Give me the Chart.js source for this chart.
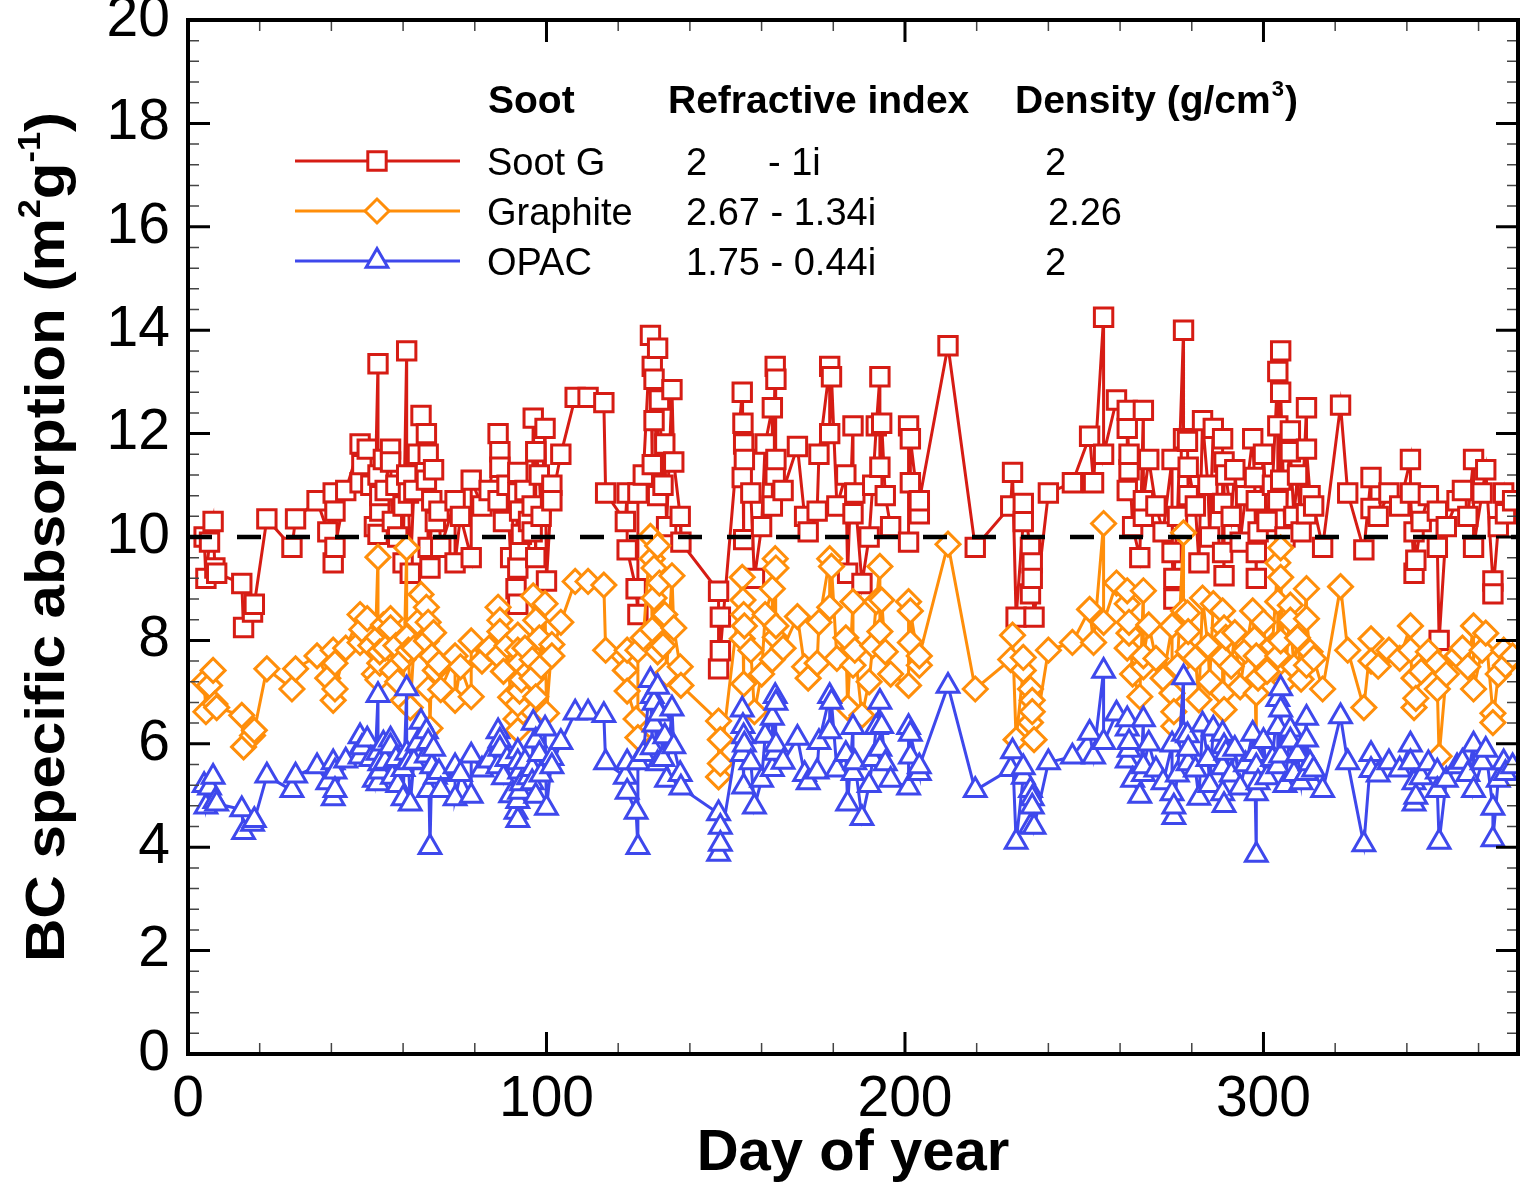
<!DOCTYPE html>
<html>
<head>
<meta charset="utf-8">
<title>BC specific absorption</title>
<script src="https://cdn.jsdelivr.net/npm/chart.js@4.4.1/dist/chart.umd.min.js"></script>
<style>
    html, body { margin: 0; padding: 0; background: #fff; overflow: hidden; }
    #wrap { width: 1525px; height: 1184px; position: relative; overflow: hidden; }
    #absChart { display: block; }
</style>
</head>
<body>
<div id="wrap"><canvas id="absChart"></canvas></div>
<script>
// Day of year for each sample (later entries fill in the dense stretches)
const days = [
    4.5, 5, 6, 7, 7.5, 8, 15, 15.5, 18, 18.5, 22, 29, 30, 36, 39, 40.5, 40.5, 41, 41, 44,
    48, 48, 48.5, 50, 53, 53, 53, 53.5, 53.5, 56.5, 56.5, 57, 60, 60, 61, 61, 61.5, 62, 65, 66.5,
    66.5, 67, 67, 67.5, 68, 69, 74.5, 74.5, 76, 79, 79, 84, 86.5, 86.5, 87, 87, 91.5, 92, 92, 92,
    92, 92.5, 92.5, 93, 96, 96, 96.3, 97, 97, 99.6, 100, 101.5, 101.5, 104, 108, 111.6, 116, 116.5, 122, 122.5,
    122.5, 125, 125.5, 125.5, 129, 129.5, 129.5, 130, 130, 131, 131, 131.5, 133, 135, 135.5, 137.3, 137.5, 148, 148, 148.5,
    148.5, 154.6, 154.6, 154.8, 155, 155, 155.2, 157, 158, 163, 163, 163.8, 163.8, 164, 164, 170, 172, 173, 175.5, 176,
    179, 179, 179.5, 184, 185.5, 185.5, 186, 188, 190, 192, 193, 193, 193.5, 194.5, 201, 201, 201.5, 201.5, 204, 204,
    212, 219.6, 229.5, 230, 231, 233, 233, 235, 235, 235.5, 235.5, 236, 240, 246.7, 251.5, 252.6, 255.4, 255.4, 259, 262,
    262, 262, 262.5, 262.5, 265.5, 266.5, 266.5, 266.5, 272, 274.5, 274.5, 275, 275, 277.7, 277.7, 278.8, 279, 279, 283, 286,
    288.6, 288.6, 288.6, 289, 289, 289.5, 297, 297.5, 298, 298, 298, 298.5, 304, 304, 304, 304.8, 304.8, 304.8, 307.5, 307.5,
    308.5, 312, 312, 312, 313, 316.5, 321.5, 323.5, 328, 330, 330, 335, 341, 341, 342, 342, 342.5, 346, 348.5, 348.5,
    349, 354, 357, 358.6, 358.6, 361, 362, 364, 364, 367, 367.5, 369.5,
    51, 52, 54.5, 55, 58, 58.5, 63, 64, 68.5, 70, 70.5, 82, 88, 89, 90, 94, 95, 98, 98.5, 127,
    132.5, 133.5, 160, 161, 166, 181, 183.5, 191, 196, 263.5, 268, 270, 276, 281, 282, 284.5, 285, 291, 292, 293.5,
    295, 300, 301, 302.5, 306, 309.5, 310.5, 314, 332, 338, 344, 351, 355.5, 365.5
];

const sootG = [
    10.0, 9.2, 9.9, 10.3, 9.4, 9.3, 9.1, 8.25, 8.55, 8.7, 10.35, 9.8, 10.35, 10.7, 10.1, 10.85, 9.5, 10.5, 9.8, 10.9,
    11.8, 11.05, 11.4, 11.7, 13.35, 10.05, 11.2, 10.5, 10.8, 11.7, 11.45, 10.3, 10.6, 9.5, 13.6, 11.2, 10.85, 9.3, 12.35, 11.1,
    12.0, 9.8, 11.6, 9.4, 10.7, 10.3, 10.7, 9.5, 10.4, 9.6, 11.1, 10.9, 12.0, 10.7, 11.65, 11.35, 9.0, 11.25, 8.7, 10.85,
    9.4, 10.5, 9.75, 10.05, 10.6, 10.1, 12.3, 9.6, 11.65, 12.1, 9.15, 11.0, 10.7, 11.6, 12.7, 12.7, 12.6, 10.85, 10.3, 10.85,
    9.75, 9.0, 8.5, 10.85, 13.9, 11.4, 13.3, 12.25, 13.05, 10.8, 13.65, 12.65, 11.8, 12.85, 11.45, 10.4, 9.9, 8.95, 7.45, 8.45,
    7.8, 12.8, 11.15, 12.2, 9.95, 11.8, 11.5, 10.85, 9.2, 12.5, 10.6, 13.3, 11.2, 13.05, 11.5, 11.75, 10.4, 10.1, 10.5, 11.6,
    13.3, 12.0, 13.1, 9.3, 12.15, 10.45, 10.85, 9.1, 10.0, 12.15, 13.1, 11.35, 12.2, 10.8, 9.9, 12.15, 11.05, 11.9, 10.45, 10.7,
    13.7, 9.8, 10.6, 11.25, 8.45, 10.3, 10.65, 9.8, 8.9, 9.5, 9.2, 8.45, 10.85, 11.05, 11.95, 11.05, 14.25, 11.6, 12.65, 12.1,
    10.9, 12.45, 11.3, 11.6, 9.6, 12.45, 10.4, 10.7, 10.1, 11.5, 9.7, 8.8, 9.2, 14.0, 11.9, 11.85, 10.8, 11.35, 12.25, 12.1,
    11.9, 9.7, 10.65, 9.25, 11.45, 11.2, 11.9, 11.15, 9.2, 10.7, 9.7, 10.1, 13.2, 10.7, 12.15, 13.6, 11.1, 12.8, 12.05, 11.65,
    10.4, 12.5, 10.45, 11.7, 10.8, 9.8, 12.55, 10.85, 9.75, 11.15, 10.55, 10.85, 11.5, 10.85, 9.3, 10.1, 9.55, 10.8, 10.5, 9.8,
    8.0, 10.7, 10.4, 11.5, 9.8, 10.85, 11.3, 9.15, 8.9, 10.85, 10.45, 10.7,
    11.0, 10.2, 11.5, 10.9, 11.0, 10.0, 10.9, 11.6, 11.3, 10.5, 9.8, 10.6, 10.3, 11.0, 9.6, 10.9, 10.3, 11.2, 10.4, 11.2,
    11.0, 10.2, 10.2, 11.8, 10.9, 10.6, 11.2, 11.0, 10.2, 10.2, 11.5, 10.6, 10.4, 10.6, 9.5, 11.0, 10.0, 10.4, 11.3, 9.9,
    10.8, 11.6, 10.3, 11.0, 10.0, 11.2, 10.1, 10.6, 10.4, 10.6, 10.3, 10.2, 10.9, 10.2
];

const graphite = [
    7.20, 6.62, 7.13, 7.42, 6.77, 6.70, 6.55, 5.94, 6.16, 6.26, 7.45, 7.06, 7.45, 7.70, 7.27, 7.81, 6.84, 7.56, 7.06, 7.85,
    8.50, 7.96, 8.21, 8.42, 9.61, 7.24, 8.06, 7.56, 7.78, 8.42, 8.24, 7.42, 7.63, 6.84, 9.79, 8.06, 7.81, 6.70, 8.89, 7.99,
    8.64, 7.06, 8.35, 6.30, 7.70, 7.42, 7.70, 6.84, 7.49, 6.91, 7.99, 7.85, 8.64, 7.70, 8.39, 8.17, 6.48, 8.10, 6.26, 7.81,
    6.77, 7.56, 7.02, 7.24, 7.63, 7.27, 8.86, 6.91, 8.39, 8.71, 6.59, 7.92, 7.70, 8.35, 9.14, 9.14, 9.07, 7.81, 7.42, 7.81,
    7.02, 6.48, 6.12, 7.81, 10.01, 8.21, 9.58, 8.82, 9.40, 7.78, 9.83, 9.11, 8.50, 9.25, 8.24, 7.49, 7.13, 6.44, 5.36, 6.08,
    5.62, 9.22, 8.03, 8.78, 7.16, 8.50, 8.28, 7.81, 6.62, 9.00, 7.63, 9.58, 8.06, 9.40, 8.28, 8.46, 7.49, 7.27, 7.56, 8.35,
    9.58, 8.64, 9.43, 6.70, 8.75, 7.52, 7.81, 6.55, 7.20, 8.75, 9.43, 8.17, 8.78, 7.78, 7.13, 8.75, 7.96, 8.57, 7.52, 7.70,
    9.86, 7.06, 7.63, 8.10, 6.08, 7.42, 7.67, 7.06, 6.41, 6.84, 6.62, 6.08, 7.81, 7.96, 8.60, 7.96, 10.26, 8.35, 9.11, 8.71,
    7.85, 8.96, 8.14, 8.35, 6.91, 8.96, 7.49, 7.70, 7.27, 8.28, 6.98, 6.34, 6.62, 10.08, 8.57, 8.53, 7.78, 8.17, 8.82, 8.71,
    8.57, 6.98, 7.67, 6.66, 8.24, 8.06, 8.57, 8.03, 5.70, 7.70, 6.98, 7.27, 9.50, 7.70, 8.75, 9.79, 7.99, 9.22, 8.68, 8.39,
    7.49, 9.00, 7.52, 8.42, 7.78, 7.06, 9.04, 7.81, 6.70, 8.03, 7.60, 7.81, 8.28, 7.81, 6.70, 7.27, 6.88, 7.78, 7.56, 7.06,
    5.76, 7.70, 7.49, 8.28, 7.06, 7.81, 8.14, 6.59, 6.41, 7.81, 7.52, 7.70,
    7.90, 7.35, 8.30, 7.85, 7.90, 7.20, 7.85, 8.35, 8.15, 7.55, 7.05, 7.60, 7.40, 7.90, 6.90, 7.85, 7.40, 8.05, 7.50, 8.05,
    7.90, 7.35, 7.35, 8.50, 7.85, 7.65, 8.05, 7.90, 7.35, 7.35, 8.30, 7.65, 7.50, 7.65, 6.85, 7.90, 7.20, 7.50, 8.15, 7.10,
    7.80, 8.35, 7.40, 7.90, 7.20, 8.05, 7.25, 7.65, 7.50, 7.65, 7.40, 7.35, 7.85, 7.35
];

const opac = [
    5.20, 4.78, 5.15, 5.36, 4.89, 4.84, 4.73, 4.29, 4.45, 4.52, 5.38, 5.10, 5.38, 5.56, 5.25, 5.64, 4.94, 5.46, 5.10, 5.67,
    6.14, 5.75, 5.93, 6.08, 6.94, 5.23, 5.82, 5.46, 5.62, 6.08, 5.95, 5.36, 5.51, 4.94, 7.07, 5.82, 5.64, 4.84, 6.42, 5.77,
    6.24, 5.10, 6.03, 4.00, 5.56, 5.36, 5.56, 4.94, 5.41, 4.99, 5.77, 5.67, 6.24, 5.56, 6.06, 5.90, 4.68, 5.85, 4.52, 5.64,
    4.89, 5.46, 5.07, 5.23, 5.51, 5.25, 6.40, 4.99, 6.06, 6.29, 4.76, 5.72, 5.56, 6.03, 6.60, 6.60, 6.55, 5.64, 5.36, 5.64,
    5.07, 4.68, 4.00, 5.64, 7.23, 5.93, 6.92, 6.37, 6.79, 5.62, 7.10, 6.58, 6.14, 6.68, 5.95, 5.41, 5.15, 4.65, 3.87, 4.39,
    4.06, 6.66, 5.80, 6.34, 5.17, 6.14, 5.98, 5.64, 4.78, 6.50, 5.51, 6.92, 5.82, 6.79, 5.98, 6.11, 5.41, 5.25, 5.46, 6.03,
    6.92, 6.24, 6.81, 4.84, 6.32, 5.43, 5.64, 4.56, 5.20, 6.32, 6.81, 5.90, 6.34, 5.62, 5.15, 6.32, 5.75, 6.19, 5.43, 5.56,
    7.12, 5.10, 5.51, 5.85, 4.10, 5.36, 5.54, 5.10, 4.40, 4.94, 4.78, 4.39, 5.64, 5.75, 6.21, 5.75, 7.41, 6.03, 6.58, 6.29,
    5.67, 6.47, 5.88, 6.03, 4.99, 6.47, 5.41, 5.56, 5.25, 5.98, 5.04, 4.58, 4.78, 7.28, 6.19, 6.16, 5.62, 5.90, 6.37, 6.29,
    6.19, 5.04, 5.54, 4.81, 5.95, 5.82, 6.19, 5.80, 3.85, 5.56, 5.04, 5.25, 6.86, 5.56, 6.32, 7.07, 5.77, 6.66, 6.27, 6.06,
    5.41, 6.50, 5.43, 6.08, 5.62, 5.10, 6.53, 5.64, 4.05, 5.80, 5.49, 5.64, 5.98, 5.64, 4.84, 5.25, 4.97, 5.62, 5.46, 5.10,
    4.10, 5.56, 5.41, 5.98, 5.10, 5.64, 5.88, 4.76, 4.15, 5.64, 5.43, 5.56,
    5.70, 5.30, 6.00, 5.65, 5.70, 5.20, 5.65, 6.00, 5.90, 5.45, 5.10, 5.50, 5.35, 5.70, 5.00, 5.65, 5.35, 5.80, 5.40, 5.80,
    5.70, 5.30, 5.30, 6.15, 5.65, 5.50, 5.80, 5.70, 5.30, 5.30, 6.00, 5.50, 5.40, 5.50, 4.95, 5.70, 5.20, 5.40, 5.90, 5.15,
    5.60, 6.05, 5.35, 5.70, 5.20, 5.80, 5.25, 5.50, 5.40, 5.50, 5.35, 5.30, 5.65, 5.30
];

// Reference level (dashed line)
const refLevel = 10;

const xMax = 371;
const xTickValues = [0, 100, 200, 300];
const yTickValues = [0, 2, 4, 6, 8, 10, 12, 14, 16, 18, 20];

const red = 'rgb(214, 28, 20)';
const orange = 'rgb(255, 142, 10)';
const blue = 'rgb(62, 72, 236)';
const fontFam = "'Liberation Sans', Arial, Helvetica, sans-serif";

// samples joined in day order
const order = days.map((d, i) => i).sort((a, b) => days[a] - days[b]);

function toPoints(vals) {
    return order.map(i => ({ x: days[i], y: vals[i] }));
}

function drawMarker(ctx, type, x, y, color) {
    ctx.save();
    ctx.strokeStyle = color;
    ctx.fillStyle = '#fff';
    ctx.lineWidth = 3;
    ctx.beginPath();
    if (type === 'rect') {
        const h = 13 * Math.SQRT1_2;
        ctx.rect(x - h, y - h, 2 * h, 2 * h);
    } else if (type === 'rectRot') {
        const r = 12;
        ctx.moveTo(x - r, y);
        ctx.lineTo(x, y - r);
        ctx.lineTo(x + r, y);
        ctx.lineTo(x, y + r);
        ctx.closePath();
    } else {
        const r = 12.5;
        ctx.moveTo(x, y - r);
        ctx.lineTo(x + 0.866 * r, y + 0.5 * r);
        ctx.lineTo(x - 0.866 * r, y + 0.5 * r);
        ctx.closePath();
    }
    ctx.fill();
    ctx.stroke();
    ctx.restore();
}

const framePlugin = {
    id: 'framePlugin',
    afterDatasetsDraw(chart) {
        const ctx = chart.ctx;
        const area = chart.chartArea;
        const xs = chart.scales.x;
        const ys = chart.scales.y;

        ctx.save();
        // inward ticks on all four sides
        for (let d = 20; d < xMax; d += 20) {
            const major = d % 100 === 0;
            const len = major ? 22 : 11;
            ctx.lineWidth = major ? 3 : 1.5;
            ctx.strokeStyle = major ? '#000' : '#444';
            const px = xs.getPixelForValue(d);
            ctx.beginPath();
            ctx.moveTo(px, area.bottom); ctx.lineTo(px, area.bottom - len);
            ctx.moveTo(px, area.top); ctx.lineTo(px, area.top + len);
            ctx.stroke();
        }
        for (let k = 1; k < 50; k++) {
            const major = k % 5 === 0;
            const len = major ? 22 : 11;
            ctx.lineWidth = major ? 3 : 1.5;
            ctx.strokeStyle = major ? '#000' : '#444';
            const py = ys.getPixelForValue(k * 0.4);
            ctx.beginPath();
            ctx.moveTo(area.left, py); ctx.lineTo(area.left + len, py);
            ctx.moveTo(area.right, py); ctx.lineTo(area.right - len, py);
            ctx.stroke();
        }
        // frame
        ctx.strokeStyle = '#000';
        ctx.lineWidth = 4;
        ctx.strokeRect(area.left, area.top, area.right - area.left, area.bottom - area.top);

        // x title
        ctx.fillStyle = '#000';
        ctx.font = 'bold 58px ' + fontFam;
        ctx.textAlign = 'center';
        ctx.textBaseline = 'alphabetic';
        ctx.fillText('Day of year', (area.left + area.right) / 2, 1170);

        // y title with superscripts, rotated
        ctx.save();
        ctx.translate(64, (area.top + area.bottom) / 2);
        ctx.rotate(-Math.PI / 2);
        const parts = [
            { t: 'BC specific absorption (m', s: 56, dy: 0 },
            { t: '2', s: 32, dy: -24 },
            { t: 'g', s: 56, dy: 0 },
            { t: '-1', s: 32, dy: -24 },
            { t: ')', s: 56, dy: 0 }
        ];
        let total = 0;
        parts.forEach(p => {
            ctx.font = 'bold ' + p.s + 'px ' + fontFam;
            p.w = ctx.measureText(p.t).width;
            total += p.w;
        });
        ctx.scale(850 / total, 1);
        ctx.textAlign = 'left';
        let tx = -total / 2;
        parts.forEach(p => {
            ctx.font = 'bold ' + p.s + 'px ' + fontFam;
            ctx.fillText(p.t, tx, p.dy);
            tx += p.w;
        });
        ctx.restore();

        // legend table
        ctx.textAlign = 'left';
        ctx.font = 'bold 39px ' + fontFam;
        ctx.fillText('Soot', 488, 113);
        ctx.fillText('Refractive index', 668, 113);
        const dens = 'Density (g/cm';
        ctx.fillText(dens, 1015, 113);
        let dw = ctx.measureText(dens).width;
        ctx.font = 'bold 22px ' + fontFam;
        ctx.fillText('3', 1015 + dw + 1, 96);
        dw += ctx.measureText('3').width + 2;
        ctx.font = 'bold 39px ' + fontFam;
        ctx.fillText(')', 1015 + dw, 113);

        const rows = [
            { c: red, m: 'rect', name: 'Soot G', idx: [['2', 686], ['- 1i', 768]], d: ['2', 1045], base: 175 },
            { c: orange, m: 'rectRot', name: 'Graphite', idx: [['2.67 - 1.34i', 686]], d: ['2.26', 1048], base: 225 },
            { c: blue, m: 'triangle', name: 'OPAC', idx: [['1.75 - 0.44i', 686]], d: ['2', 1045], base: 275 }
        ];
        rows.forEach(r => {
            const cy = r.base - 14;
            ctx.strokeStyle = r.c;
            ctx.lineWidth = 3;
            ctx.beginPath();
            ctx.moveTo(295, cy); ctx.lineTo(460, cy);
            ctx.stroke();
            drawMarker(ctx, r.m, 377, cy, r.c);
            ctx.fillStyle = '#000';
            ctx.font = '38px ' + fontFam;
            ctx.fillText(r.name, 487, r.base);
            r.idx.forEach(s => ctx.fillText(s[0], s[1], r.base));
            ctx.fillText(r.d[0], r.d[1], r.base);
        });
        ctx.restore();
    }
};

Chart.defaults.font.family = fontFam;
Chart.defaults.color = '#000';

const ctx = document.getElementById('absChart').getContext('2d');
new Chart(ctx, {
    type: 'line',
    data: {
        datasets: [
            {
                label: 'Soot G',
                data: toPoints(sootG),
                borderColor: red,
                borderWidth: 3,
                pointStyle: 'rect',
                pointRadius: 13,
                pointBorderWidth: 3,
                pointBorderColor: red,
                pointBackgroundColor: '#fff',
                order: 3
            },
            {
                label: 'Graphite',
                data: toPoints(graphite),
                borderColor: orange,
                borderWidth: 3,
                pointStyle: 'rectRot',
                pointRadius: 12,
                pointBorderWidth: 3,
                pointBorderColor: orange,
                pointBackgroundColor: '#fff',
                order: 2
            },
            {
                label: 'OPAC',
                data: toPoints(opac),
                borderColor: blue,
                borderWidth: 3,
                pointStyle: 'triangle',
                pointRadius: 12.5,
                pointBorderWidth: 3,
                pointBorderColor: blue,
                pointBackgroundColor: '#fff',
                order: 1
            },
            {
                label: 'reference',
                data: [{ x: 0, y: refLevel }, { x: xMax, y: refLevel }],
                borderColor: '#000',
                borderWidth: 4.5,
                borderDash: [24, 25],
                pointRadius: 0,
                order: 0
            }
        ]
    },
    plugins: [framePlugin],
    options: {
        responsive: true,
        maintainAspectRatio: false,
        animation: false,
        layout: { autoPadding: false, padding: { left: 0, top: 20, right: 7, bottom: 0 } },
        plugins: {
            legend: { display: false },
            tooltip: { enabled: false }
        },
        scales: {
            x: {
                type: 'linear',
                min: 0,
                max: xMax,
                grid: { display: false, drawTicks: false },
                border: { display: false },
                afterBuildTicks: scale => { scale.ticks = xTickValues.map(v => ({ value: v })); },
                afterFit: scale => {
                    scale.height = 130;
                    scale.paddingLeft = 0;
                    scale.paddingRight = 0;
                },
                ticks: {
                    padding: 12,
                    maxRotation: 0,
                    font: { size: 57 },
                    color: '#000'
                }
            },
            y: {
                min: 0,
                max: 20,
                grid: { display: false, drawTicks: false },
                border: { display: false },
                afterBuildTicks: scale => { scale.ticks = yTickValues.map(v => ({ value: v })); },
                afterFit: scale => {
                    scale.width = 188;
                    scale.paddingTop = 0;
                    scale.paddingBottom = 0;
                },
                ticks: {
                    padding: 18,
                    font: { size: 57 },
                    color: '#000'
                }
            }
        }
    }
});
</script>
</body>
</html>
